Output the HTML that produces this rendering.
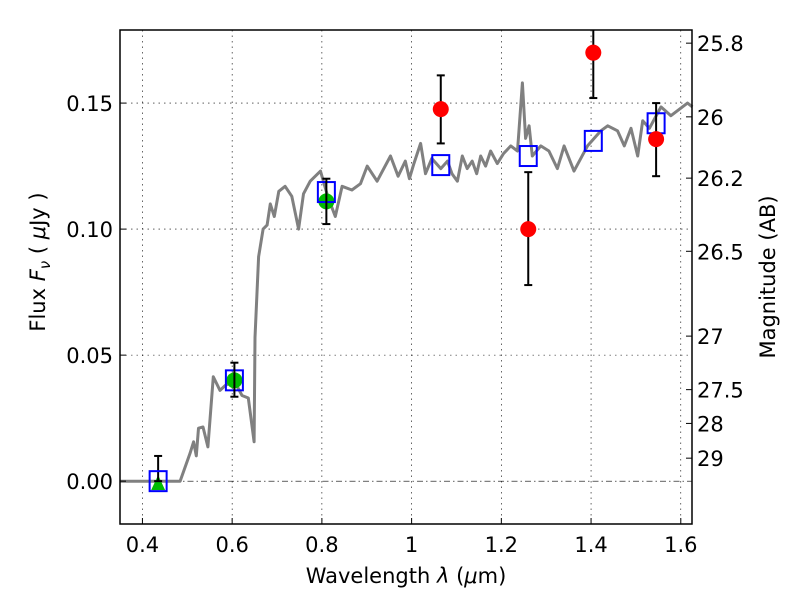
<!DOCTYPE html>
<html><head><meta charset="utf-8"><style>
body{margin:0;background:#fff}
svg text{font-family:"DejaVu Sans","Liberation Sans",sans-serif;fill:#000}
</style></head><body>
<svg id="chart" width="800" height="600" xmlns="http://www.w3.org/2000/svg">
<rect width="800" height="600" fill="#fff"/>
<g id="grid"></g>
<g id="plot"></g>
<rect x="120" y="30" width="572" height="494" fill="none" stroke="#000" stroke-width="1.5"/>
<g id="axes"></g>
<text x="406" y="583" font-size="21" text-anchor="middle">Wavelength  <tspan font-style="italic">λ</tspan> (<tspan font-style="italic">μ</tspan>m)</text>
<text transform="translate(45,262) rotate(-90)" font-size="21" text-anchor="middle">Flux  <tspan font-style="italic">F</tspan><tspan font-style="italic" font-size="15" dy="5">ν</tspan><tspan dy="-5">  (  </tspan><tspan font-style="italic">μ</tspan>Jy )</text>
<text transform="translate(775,277) rotate(-90)" font-size="21" text-anchor="middle">Magnitude (AB)</text>
</svg>
<script>
const xTicks=[0.4,0.6,0.8,1.0,1.2,1.4,1.6];
const xTickLabels=["0.4","0.6","0.8","1","1.2","1.4","1.6"];
const yTicks=[0,0.05,0.10,0.15];
const yTickLabels=["0.00","0.05","0.10","0.15"];
const magTicks=[25.8,26,26.2,26.5,27,27.5,28,29];
const magTickLabels=["25.8","26","26.2","26.5","27","27.5","28","29"];
const specWave=[0.35,0.484,0.506,0.514,0.52,0.525,0.535,0.546,0.558,0.573,0.585,0.604,0.622,0.636,0.649,0.651,0.659,0.669,0.678,0.685,0.694,0.704,0.718,0.733,0.748,0.759,0.774,0.797,0.813,0.83,0.845,0.867,0.886,0.901,0.923,0.953,0.97,0.986,0.995,1.005,1.02,1.031,1.045,1.065,1.08,1.09,1.102,1.113,1.124,1.135,1.145,1.154,1.165,1.176,1.191,1.205,1.221,1.236,1.247,1.254,1.262,1.269,1.288,1.306,1.325,1.34,1.362,1.392,1.422,1.437,1.459,1.474,1.489,1.504,1.515,1.53,1.556,1.578,1.615,1.626];
const specFlux=[0,0,0.011,0.0156,0.010,0.021,0.0215,0.0136,0.0414,0.036,0.038,0.040,0.034,0.033,0.0156,0.057,0.089,0.100,0.1016,0.110,0.105,0.115,0.117,0.113,0.100,0.114,0.119,0.123,0.113,0.105,0.117,0.1155,0.118,0.125,0.119,0.129,0.121,0.127,0.120,0.126,0.134,0.122,0.128,0.124,0.127,0.122,0.119,0.129,0.124,0.127,0.122,0.129,0.125,0.131,0.126,0.130,0.133,0.131,0.158,0.136,0.141,0.129,0.133,0.131,0.124,0.133,0.123,0.133,0.139,0.141,0.139,0.133,0.140,0.129,0.143,0.140,0.1485,0.145,0.150,0.1485];
const modelWave=[0.435,0.605,0.81,1.065,1.26,1.405,1.545];
const modelFlux=[0,0.040,0.1147,0.1254,0.129,0.135,0.142];
const obsWave=[1.065,1.26,1.405,1.545];
const obsFlux=[0.1476,0.100,0.170,0.1357];
const obsErrLo=[0.134,0.0778,0.152,0.121];
const obsErrHi=[0.161,0.1226,0.19,0.150];
const greenWave=[0.605,0.81];
const greenFlux=[0.040,0.111];
const greenErrLo=[0.0335,0.102];
const greenErrHi=[0.047,0.120];
const triWave=[0.435];
const triFlux=[0];
const triErrHi=[0.010];

const X0=120,X1=692,Y0=30,Y1=524,xmin=0.35,xmax=1.625,ymin=-0.017,ymax=0.179;
const sx=v=>X0+(v-xmin)/(xmax-xmin)*(X1-X0);
const sy=v=>Y1-(v-ymin)/(ymax-ymin)*(Y1-Y0);
const NS="http://www.w3.org/2000/svg";
function mk(parent,tag,attrs){const e=document.createElementNS(NS,tag);for(const k in attrs)e.setAttribute(k,attrs[k]);parent.appendChild(e);return e;}
const grid=document.getElementById('grid'),plot=document.getElementById('plot'),axes=document.getElementById('axes');

xTicks.forEach((t,i)=>{
  const g=mk(grid,'line',{x1:sx(t),x2:sx(t),y1:Y0,y2:Y1,stroke:'#000','stroke-width':0.6,'stroke-dasharray':'1.5,4'});
  
  
  const tk=mk(axes,'line',{x1:sx(t),x2:sx(t),y1:Y1,y2:Y1-6,stroke:'#000'});
  
  
  const tx=mk(axes,'text',{x:sx(t),y:Y1+28,'font-size':21,'text-anchor':'middle'});
  tx.textContent=xTickLabels[i];
  
  
});
yTicks.forEach((t,i)=>{
  if(t!==0){const g=mk(grid,'line',{x1:X0,x2:X1,y1:sy(t),y2:sy(t),stroke:'#000','stroke-width':0.6,'stroke-dasharray':'1.5,4'});
  
  }
  const tk=mk(axes,'line',{x1:X0,x2:X0+6,y1:sy(t),y2:sy(t),stroke:'#000'});
  
  
  const tx=mk(axes,'text',{x:X0-7,y:sy(t)+8,'font-size':21,'text-anchor':'end'});
  tx.textContent=yTickLabels[i];
  
  
});
const zl=mk(grid,'line',{x1:X0,x2:X1,y1:sy(0),y2:sy(0),stroke:'#000','stroke-width':0.6,'stroke-dasharray':'6,3,1.5,3'});


magTicks.forEach((m,i)=>{
  const f=Math.pow(10,(23.9-m)/2.5);
  const tk=mk(axes,'line',{x1:X1,x2:X1-6,y1:sy(f),y2:sy(f),stroke:'#000'});
  
  
  const tx=mk(axes,'text',{x:X1+5,y:sy(f)+8,'font-size':21});
  tx.textContent=magTickLabels[i];
  
  
});
const pts=specWave.map((w,i)=>sx(w).toFixed(1)+','+sy(specFlux[i]).toFixed(1)).join(' ');
const sp=mk(plot,'polyline',{points:pts,fill:'none',stroke:'#808080','stroke-width':3,'stroke-linejoin':'round'});


function errbar(w,lo,hi){
  const g=mk(plot,'g',{stroke:'#000','stroke-width':2});
  
  
  const x=sx(w),a=Math.max(sy(hi),Y0),b=sy(lo);
  mk(g,'line',{x1:x,x2:x,y1:a,y2:b});
  if(sy(hi)>=Y0)mk(g,'line',{x1:x-4,x2:x+4,y1:a,y2:a});
  mk(g,'line',{x1:x-4,x2:x+4,y1:b,y2:b});
}
triWave.forEach((w,i)=>{
  const x=sx(w),y=sy(triFlux[i]);
  const t=mk(plot,'polygon',{points:`${x-7},${y+9} ${x+7},${y+9} ${x},${y-6}`,fill:'#00bb00'});
  
  
  errbar(w,triFlux[i],triErrHi[i]);
});
greenWave.forEach((w,i)=>{
  const c=mk(plot,'circle',{cx:sx(w),cy:sy(greenFlux[i]),r:8,fill:'#00bb00'});
  
  
});
modelWave.forEach((w,i)=>{
  const r=mk(plot,'rect',{x:sx(w)-8.5,y:sy(modelFlux[i])-10,width:17,height:20,fill:'none',stroke:'#0000ff','stroke-width':2});
  
  
});
greenWave.forEach((w,i)=>errbar(w,greenErrLo[i],greenErrHi[i]));
obsWave.forEach((w,i)=>{
  errbar(w,obsErrLo[i],obsErrHi[i]);
  const c=mk(plot,'circle',{cx:sx(w),cy:sy(obsFlux[i]),r:8,fill:'#ff0000'});
  
  
});
</script>
</body></html>
